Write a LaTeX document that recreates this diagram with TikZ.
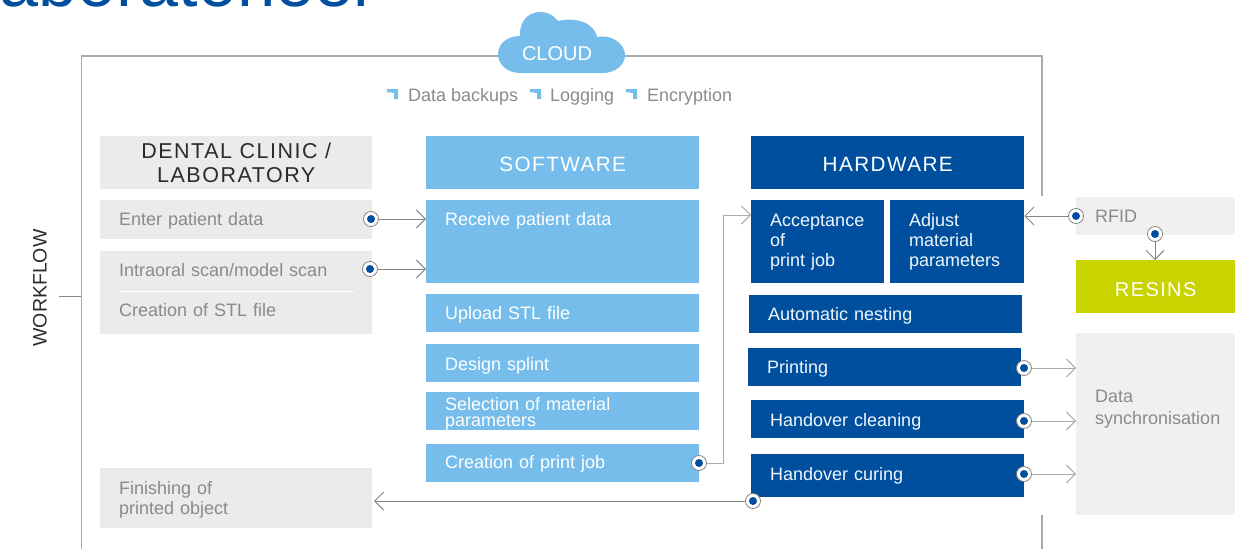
\documentclass[tikz,border=0pt]{standalone}
\usepackage{fontspec}
\setmainfont{Liberation Sans}
\newfontfamily\spacedfont[LetterSpace=7]{Liberation Sans}
\usetikzlibrary{arrows.meta}
\definecolor{lightblue}{HTML}{76BDEB}
\definecolor{darkblue}{HTML}{004F9F}
\definecolor{panelgrey}{HTML}{EBEBEB}
\definecolor{palegrey}{HTML}{F0F0F0}
\definecolor{limegreen}{HTML}{C9D300}
\definecolor{framegrey}{HTML}{ABABAB}
\definecolor{linegrey}{HTML}{858585}
\definecolor{textgrey}{HTML}{8A8A8A}
\definecolor{darktext}{HTML}{2B2B2B}
\tikzset{
  x=1pt,y=-1pt,
  basebox/.style n args={2}{anchor=north west,inner ysep=0pt,inner xsep=19pt,minimum width=#1 pt,minimum height=#2 pt,text width=#1 pt-38pt,align=left,font=\fontsize{18}{20}\selectfont},
  greybox/.style 2 args={basebox={#1}{#2},fill=panelgrey,text=textgrey},
  paleBox/.style 2 args={basebox={#1}{#2},fill=palegrey,text=textgrey},
  softbox/.style 2 args={basebox={#1}{#2},fill=lightblue,text=white},
  hardbox/.style 2 args={basebox={#1}{#2},fill=darkblue,text=white!88!lightblue},
  headbox/.style={anchor=north west,inner sep=0pt,align=center,minimum width=273pt,minimum height=53pt,font=\fontsize{20.7}{23.5}\spacedfont},
  % first baseline below (baseDown) or above (baseUp) the centre of the box
  baseDown/.style={text height=2*#1 pt,text depth=0pt},
  baseUp/.style={text height=0pt,text depth=2*#1 pt},
  frameline/.style={draw=framegrey,line width=1.2pt},
  connector/.style={draw=linegrey,line width=0.9pt,-{Straight Barb[length=9pt,width=18pt,line width=0.9pt]}},
  paleconnector/.style={connector,draw=framegrey},
  port/.style={circle,draw=linegrey,line width=0.8pt,fill=white,inner sep=0pt,minimum size=15pt,
    path picture={\fill[darkblue] (path picture bounding box.center) circle (4pt);}},
  plain/.style={inner sep=0pt,text=textgrey,font=\fontsize{18}{20}\selectfont},
  bulletmark/.style={fill=lightblue}
}
\begin{document}
\begin{tikzpicture}
\useasboundingbox (0,0) rectangle (1250,549);
\begin{scope}
\clip (0,0) rectangle (1250,549);
\node[anchor=base west,inner sep=0pt,text=darkblue,font=\fontsize{70}{70}\selectfont] (title) at (-16,6.5) {laboratorieel};
\end{scope}
% frame
\draw[frameline] (1042,196) -- (1042,56) -- (81.5,56) -- (81.5,549);
\draw[frameline] (1042,515) -- (1042,549);
% cloud
\fill[lightblue] (520,73) .. controls (507,73) and (498,64) .. (498,54)
  .. controls (498,44) and (507,36) .. (520,36)
  .. controls (519,22) and (528,12) .. (540,12)
  .. controls (549,12) and (554,16) .. (558,21)
  .. controls (575,17) and (594,22) .. (597,37)
  .. controls (612,34) and (625,44) .. (625,55)
  .. controls (625,65) and (615,73) .. (603,73) -- cycle;
\node[inner sep=0pt,text=white,font=\fontsize{20}{24}\selectfont] (cloud) at (557,54) {CLOUD};
% cloud items
\fill[bulletmark] (387,89) -- ++(11,0) -- ++(0,10) -- ++(-4,0) -- ++(0,-6) -- ++(-7,-1) -- cycle;
\fill[bulletmark] (530,89) -- ++(11,0) -- ++(0,10) -- ++(-4,0) -- ++(0,-6) -- ++(-7,-1) -- cycle;
\fill[bulletmark] (626,89) -- ++(11,0) -- ++(0,10) -- ++(-4,0) -- ++(0,-6) -- ++(-7,-1) -- cycle;
\node[plain,anchor=base west] (backups) at (408,101) {Data backups};
\node[plain,anchor=base west] (logging) at (550,101) {Logging};
\node[plain,anchor=base west] (encrypt) at (647,101) {Encryption};
% workflow
\node[inner sep=0pt,rotate=90,text=darktext,font=\fontsize{19.5}{22}\selectfont] (workflow) at (40,288) {WORKFLOW};
\coordinate (wfl) at (59,296);
\coordinate (wfr) at (81,296);
\draw[draw=linegrey,line width=0.9pt] (wfl) -- (wfr);
% headers
\node[headbox,fill=panelgrey,text=darktext,minimum width=272pt,font=\fontsize{21.5}{23.5}\spacedfont] (dental) at (100,136) {DENTAL CLINIC /\\LABORATORY};
\node[headbox,fill=lightblue,text=white,baseDown=8.4] (software) at (426,136) {SOFTWARE};
\node[headbox,fill=darkblue,text=white,baseDown=8.4] (hardware) at (751,136) {HARDWARE};
% clinic column
\node[greybox={272}{39},baseDown=5.6] (enter) at (100,200) {Enter patient data};
\node[greybox={272}{83},baseUp=16.5] (scan) at (100,251) {Intraoral scan/model scan\\[20pt]Creation of STL file};
\coordinate (sepl) at (119,291);
\coordinate (sepr) at (354,291);
\draw[white,line width=0.9pt] (sepl) -- (sepr);
\node[greybox={272}{60},baseUp=4] (finish) at (100,468) {Finishing of\\printed object};
% software column
\node[softbox={273}{83},baseUp=16.5] (receive) at (426,200) {Receive patient data};
\node[softbox={273}{38},baseDown=6.6] (upload) at (426,294) {Upload STL file};
\node[softbox={273}{38},baseDown=7.6] (design) at (426,344) {Design splint};
\node[softbox={273}{38},font=\fontsize{18}{16}\selectfont,baseUp=1] (select) at (426,392) {Selection of material\\parameters};
\node[softbox={273}{38},baseDown=5.6] (create) at (426,444) {Creation of print job};
% hardware column
\node[hardbox={133}{83}] (accept) at (751,200) {Acceptance\\of\\print job};
\node[hardbox={134}{83}] (adjust) at (890,200) {Adjust\\material\\parameters};
\node[hardbox={273}{38},baseDown=6.6] (nesting) at (749,295) {Automatic nesting};
\node[hardbox={273}{38},baseDown=6.6] (printing) at (748,348) {Printing};
\node[hardbox={273}{38},baseDown=7.6] (cleaning) at (751,400) {Handover cleaning};
\node[hardbox={273}{43}] (curing) at (751,454) {Handover curing};
% right column
\node[paleBox={159}{38}] (rfid) at (1076,197) {RFID};
\node[headbox,minimum width=159pt,fill=limegreen,text=white,font=\fontsize{20}{23.5}\spacedfont,baseDown=9.4] (resins) at (1076,260) {RESINS};
\node[paleBox={159}{182},baseUp=22] (sync) at (1076,333) {Data\\[2pt]\mbox{synchronisation}};
% ports
\node[port] (penter) at (371,219) {};
\node[port] (pscan) at (370,269) {};
\node[port] (pcreate) at (699,463) {};
\node[port] (pdone) at (753,501) {};
\node[port] (pprint) at (1024,368) {};
\node[port] (pclean) at (1024,421) {};
\node[port] (pcure) at (1024,474) {};
\node[port] (prfid) at (1076,216) {};
\node[port] (presin) at (1155,234) {};
% connectors
\draw[connector] (penter) -- (penter -| receive.west);
\draw[connector] (pscan) -- (pscan -| receive.west);
\coordinate (jobbend) at (723,463);
\coordinate (jobin) at (751,215);
\draw[paleconnector] (pcreate) -- (jobbend) |- (jobin);
\coordinate (doneend) at (374,501);
\draw[connector] (pdone) -- (doneend);
\draw[paleconnector] (pprint) -- (pprint -| sync.west);
\draw[paleconnector] (pclean) -- (pclean -| sync.west);
\draw[paleconnector] (pcure) -- (pcure -| sync.west);
\draw[connector] (prfid) -- (prfid -| adjust.east);
\draw[connector] (presin) -- (presin |- resins.north);
\end{tikzpicture}
\end{document}
